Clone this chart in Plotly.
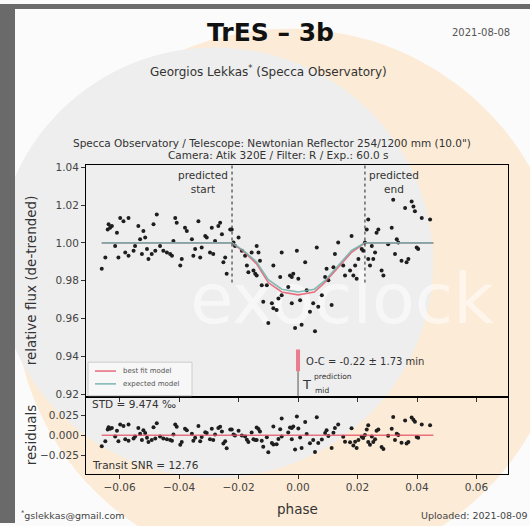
import numpy as np
import plotly.graph_objects as go

# ---------------- data ----------------
phase = [-0.0637, -0.0632, -0.0640, -0.0626, -0.0609, -0.0598, -0.0587, -0.0570, -0.0537, -0.0520,
         -0.0531, -0.0514, -0.0475, -0.0486, -0.0648, -0.0660, -0.0604, -0.0615, -0.0581, -0.0570,
         -0.0548, -0.0553, -0.0525, -0.0508, -0.0503, -0.0492, -0.0480, -0.0464, -0.0453, -0.0441,
         -0.0430, -0.0424, -0.0419, -0.0413, -0.0408, -0.0391, -0.0396, -0.0380, -0.0374, -0.0357,
         -0.0352, -0.0346, -0.0335, -0.0329, -0.0324, -0.0312, -0.0307, -0.0290, -0.0285, -0.0296,
         -0.0279, -0.0268, -0.0262, -0.0256, -0.0245, -0.0251, -0.0240, -0.0228, -0.0223, -0.0217,
         -0.0212, -0.0200, -0.0189, -0.0178, -0.0172, -0.0167, -0.0156, -0.0150, -0.0139, -0.0133,
         -0.0128, -0.0139, -0.0122, -0.0105, -0.0117, -0.0100,
         -0.0144, -0.0083, -0.0055, -0.0060, -0.0055, -0.0033, -0.0027, -0.0021, -0.0016, -0.0004,
         0.0001, 0.0024, 0.0029, -0.0088, -0.0083, -0.0072, -0.0066, -0.0021, 0.0007, 0.0040,
         0.0051, 0.0068, 0.0063, 0.0080, 0.0113, -0.0010, 0.0012, 0.0057, 0.0096, 0.0091,
         0.0102, 0.0119, 0.0124, 0.0135, 0.0152, 0.0158, 0.0175, 0.0180, 0.0186, 0.0192,
         0.0203, 0.0197, 0.0214, 0.0219, 0.0225, 0.0236, 0.0231, 0.0236, 0.0242, 0.0248,
         0.0253, 0.0259, 0.0264, 0.0270, 0.0281, 0.0287, 0.0303, 0.0315, 0.0320, 0.0332,
         0.0337, 0.0348, 0.0360, 0.0365, 0.0371, 0.0382, 0.0388, 0.0393, 0.0399, 0.0404,
         0.0416, 0.0444, 0.0326]
flux = [1.0098, 1.0080, 1.0071, 1.0089, 1.0054, 1.0132, 1.0115, 1.0132, 1.0089, 1.0063,
        1.0019, 1.0028, 1.0150, 1.0098, 0.9923, 0.9863, 0.9923, 0.9984, 0.9949, 0.9932,
        0.9984, 0.9958, 0.9941, 0.9967, 0.9915, 0.9941, 0.9958, 0.9984, 0.9958, 0.9949,
        0.9941, 0.9932, 1.0010, 1.0132, 1.0106, 0.9915, 0.9880, 1.0080, 1.0063, 1.0019,
        0.9932, 0.9967, 1.0115, 0.9923, 0.9976, 1.0037, 1.0028, 1.0080, 0.9941, 0.9949,
        1.0010, 1.0089, 1.0106, 1.0045, 0.9923, 0.9897, 0.9837, 1.0071, 1.0071, 1.0002,
        0.9984, 1.0028, 0.9958, 0.9932, 0.9880, 0.9845, 0.9949, 0.9854, 0.9984, 0.9949,
        0.9906, 0.9828, 0.9776, 0.9776, 0.9688, 0.9576,
        0.9837, 0.9880, 0.9949, 0.9819, 0.9723, 0.9767, 0.9828, 0.9819, 0.9837, 0.9958,
        0.9810, 0.9897, 0.9749, 0.9680, 0.9654, 0.9645, 0.9706, 0.9680, 0.9697, 0.9636,
        0.9680, 0.9662, 0.9976, 0.9723, 0.9671, 0.9549, 0.9567, 0.9532, 0.9863, 0.9819,
        0.9802, 0.9871, 0.9941, 1.0002, 0.9880, 0.9828, 0.9854, 1.0037, 0.9828, 0.9880,
        0.9915, 0.9810, 0.9967, 0.9958, 1.0002, 1.0124, 1.0071, 0.9915, 0.9880, 0.9984,
        0.9915, 0.9949, 1.0054, 1.0071, 0.9854, 0.9828, 0.9993, 1.0080, 1.0228, 1.0019,
        1.0002, 0.9906, 1.0184, 0.9897, 0.9915, 1.0219, 1.0193, 1.0167, 0.9976, 0.9967,
        1.0132, 1.0124, 0.9941]

model_phase = [-0.0660, -0.0222, -0.0180, -0.0140, -0.0100, -0.0055, 0.0000, 0.0055, 0.0090, 0.0135, 0.0180, 0.0225, 0.0455]
bestfit_flux = [1.0000, 1.0000, 0.9950, 0.9890, 0.9790, 0.9740, 0.9725, 0.9740, 0.9790, 0.9870, 0.9950, 1.0000, 1.0000]
expected_flux = [1.0000, 1.0000, 0.9955, 0.9900, 0.9805, 0.9755, 0.9740, 0.9755, 0.9800, 0.9880, 0.9960, 1.0000, 1.0000]

predicted_start = -0.0222
predicted_end = 0.0225
predicted_mid = 0.0
oc_bar = [0.9436, 0.9321]

x_ticks = [-0.06, -0.04, -0.02, 0.00, 0.02, 0.04, 0.06]
y_ticks = [0.92, 0.94, 0.96, 0.98, 1.00, 1.02, 1.04]
r_ticks = [-0.025, 0.0, 0.025]

residuals = np.array(flux) - np.interp(phase, model_phase, bestfit_flux)

# ---------------- layout helpers (pixels -> paper) ----------------
W, H = 530, 526
def px(x):
    return x / W
def py(y):
    return 1 - y / H

FONT = "DejaVu Sans"
TXT = "#333333"
RED = "rgba(228,80,100,0.8)"
TEAL = "rgba(110,175,170,0.85)"

fig = go.Figure()

# watermark text on a background subplot (drawn first, so beneath the data)
fig.add_trace(go.Scatter(x=[342], y=[306], mode="text", text=["exoclock"], xaxis="x", yaxis="y",
                         textfont=dict(family="DejaVu Sans", size=70, color="rgba(255,255,255,0.55)"),
                         showlegend=False, hoverinfo="skip"))

fig.add_trace(go.Scatter(x=phase, y=flux, mode="markers", xaxis="x2", yaxis="y2",
                         marker=dict(size=4, color="#1e1e1e"), showlegend=False, hoverinfo="skip"))
fig.add_trace(go.Scatter(x=model_phase, y=bestfit_flux, mode="lines", name="best fit model",
                         line=dict(color=RED, width=1.6), xaxis="x2", yaxis="y2", showlegend=False))
fig.add_trace(go.Scatter(x=model_phase, y=expected_flux, mode="lines", name="expected model",
                         line=dict(color=TEAL, width=1.6), xaxis="x2", yaxis="y2", showlegend=False))

fig.add_trace(go.Scatter(x=phase, y=residuals, mode="markers", xaxis="x3", yaxis="y3",
                         marker=dict(size=4, color="#1e1e1e"), showlegend=False, hoverinfo="skip"))
fig.add_trace(go.Scatter(x=[model_phase[0], model_phase[-1]], y=[0, 0], mode="lines", xaxis="x3", yaxis="y3",
                         line=dict(color=RED, width=1.6), showlegend=False))

shapes = []
for xv in (predicted_start, predicted_end):
    shapes.append(dict(type="line", xref="x2", yref="y2", x0=xv, x1=xv, y0=0.979, y1=1.0413,
                       line=dict(color="#222", width=1, dash="dot"), layer="above"))
shapes.append(dict(type="line", xref="x2", yref="y2", x0=predicted_mid, x1=predicted_mid, y0=oc_bar[1], y1=0.9186,
                   line=dict(color="#555", width=1), layer="above"))
shapes.append(dict(type="line", xref="x2", yref="y2", x0=predicted_mid, x1=predicted_mid, y0=oc_bar[0], y1=oc_bar[1],
                   line=dict(color="rgba(235,110,130,0.9)", width=4), layer="above"))

# manual legend box
shapes.append(dict(type="rect", xref="paper", yref="paper", x0=px(88), x1=px(192), y0=py(397), y1=py(363),
                   fillcolor="rgba(255,255,255,0.5)", line=dict(color="#cccccc", width=1), layer="above"))
shapes.append(dict(type="line", xref="paper", yref="paper", x0=px(95), x1=px(116), y0=py(372), y1=py(372),
                   line=dict(color=RED, width=1.6), layer="above"))
shapes.append(dict(type="line", xref="paper", yref="paper", x0=px(95), x1=px(116), y0=py(385), y1=py(385),
                   line=dict(color=TEAL, width=1.6), layer="above"))

# ---------------- background / watermark ----------------
def circ(cx, cy, r, color):
    return dict(type="circle", xref="paper", yref="paper", x0=px(cx - r), x1=px(cx + r),
                y0=py(cy + r), y1=py(cy - r), fillcolor=color, line=dict(width=0), layer="below")

bg = [
    circ(290, 300, 275, "#fcebd6"),
    circ(215, 262, 218, "#eeeeee"),
    dict(type="rect", xref="paper", yref="paper", x0=0, x1=px(15), y0=0, y1=1,
         fillcolor="#6a6a6a", line=dict(width=0), layer="below"),
    dict(type="rect", xref="paper", yref="paper", x0=0, x1=1, y0=py(5), y1=1,
         fillcolor="#6a6a6a", line=dict(width=0), layer="below"),
]
fig.update_layout(shapes=bg + shapes)

# ---------------- axes ----------------
common = dict(showgrid=False, zeroline=False, showline=True, mirror=True, linecolor="black", linewidth=1,
              ticks="outside", ticklen=4, tickwidth=1, tickcolor="#333",
              tickfont=dict(family=FONT, size=10.5, color="#444"))
xdom = [px(86), px(508)]
xr = [-0.0713, 0.0706]
fig.update_layout(
    xaxis=dict(domain=[0, 1], range=[0, W], visible=False, fixedrange=True),
    yaxis=dict(domain=[0, 1], range=[H, 0], visible=False, fixedrange=True),
    xaxis2=dict(domain=xdom, range=xr, anchor="y2", tickvals=x_ticks, showticklabels=False, **common),
    yaxis2=dict(domain=[py(398), py(163)], range=[0.9186, 1.0413], anchor="x2", tickvals=y_ticks,
                tickformat=".2f", **common),
    xaxis3=dict(domain=xdom, range=xr, anchor="y3", tickvals=x_ticks, tickformat=".2f", **common),
    yaxis3=dict(domain=[py(476), py(398)], range=[-0.048, 0.048], anchor="x3", tickvals=r_ticks,
                tickformat=".3f", **common),
)

# ---------------- texts ----------------
ann = []
def add_text(text, x, y, size, xanchor="center", yanchor="middle", color=TXT, angle=0, family=FONT):
    ann.append(dict(text=text, x=px(x), y=py(y), xref="paper", yref="paper", showarrow=False,
                    xanchor=xanchor, yanchor=yanchor, textangle=angle,
                    font=dict(family=family, size=size, color=color)))

add_text("<b>TrES – 3b</b>", 270, 29, 25, color="#111")
add_text("2021-08-08", 512, 29, 10, xanchor="right", color="#555")
add_text("Georgios Lekkas<sup>*</sup> (Specca Observatory)", 268, 68, 12, color="#333")
add_text("Specca Observatory / Telescope: Newtonian Reflector 254/1200 mm (10.0\")", 272, 141, 10.5)
add_text("Camera: Atik 320E / Filter: R / Exp.: 60.0 s", 278, 153, 10.5)
add_text("predicted<br>start", 230, 180, 10.5, xanchor="right")
add_text("predicted<br>end", 367, 180, 10.5, xanchor="left")
add_text("O-C = -0.22 ± 1.73 min", 304, 362, 10, xanchor="left")
add_text("T", 306, 386, 13, color="#333")
add_text("prediction", 312, 378, 7.5, xanchor="left")
add_text("mid", 313, 392, 7.5, xanchor="left")
add_text("best fit model", 121, 372, 7, xanchor="left", color="#555")
add_text("expected model", 121, 385, 7, xanchor="left", color="#555")
add_text("STD = 9.474 ‰", 90, 405, 10.5, xanchor="left")
add_text("Transit SNR = 12.76", 90, 467, 10.5, xanchor="left")
add_text("phase", 297, 512, 13.5)
add_text("relative flux (de-trended)", 31, 280, 13.5, angle=-90)
add_text("residuals", 31, 437, 13.5, angle=-90)
add_text("<sup>*</sup>gslekkas@gmail.com", 19, 518, 9.5, xanchor="left", color="#444")
add_text("Uploaded: 2021-08-09", 530, 518, 9.5, xanchor="right", color="#444")

fig.update_layout(
    annotations=ann,
    width=W, height=H, margin=dict(l=0, r=0, t=0, b=0),
    paper_bgcolor="#fbfbfb", plot_bgcolor="rgba(0,0,0,0)",
    showlegend=False,
)

fig.write_html("out.html", config={"displayModeBar": False},
               post_script="document.body.style.margin='0px';document.body.style.overflow='hidden';")
